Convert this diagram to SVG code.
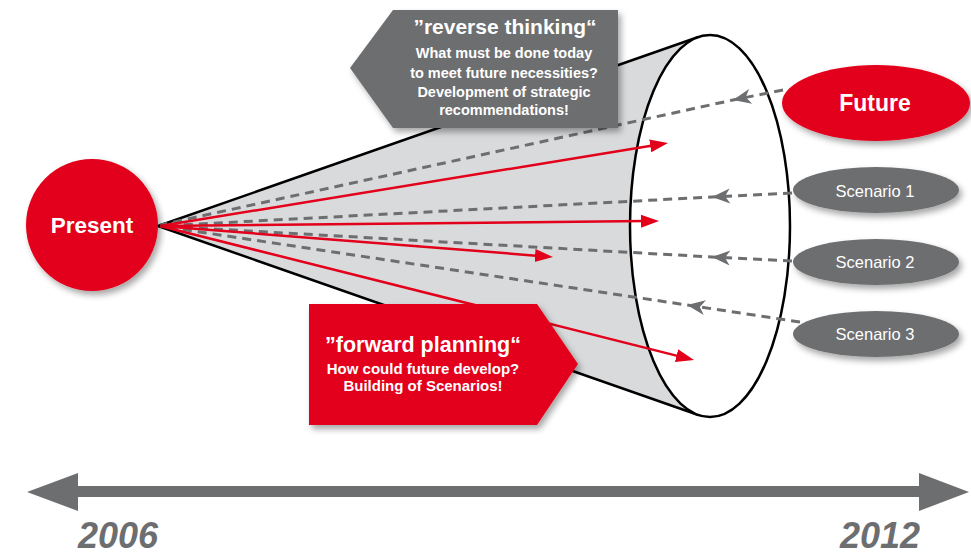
<svg xmlns="http://www.w3.org/2000/svg" width="971" height="556" viewBox="0 0 971 556">
<style>
.w{fill:#fff;font-family:"Liberation Sans",Arial,sans-serif;text-anchor:middle}
.b{font-weight:bold}
.dash{fill:none;stroke:#6d6e70;stroke-width:3;stroke-dasharray:9 6;marker-mid:url(#ga)}
.red{fill:none;stroke:#e2001a;stroke-width:2.5;marker-end:url(#ra)}
.yr{fill:#6d6e70;font-family:"Liberation Sans",Arial,sans-serif;font-weight:bold;font-style:italic;font-size:36px}
.sc{fill:#6d6e70;filter:url(#sh)}
</style>
<defs>
<filter id="sh" x="-20%" y="-20%" width="140%" height="150%">
<feDropShadow dx="3" dy="4" stdDeviation="3" flood-color="#000" flood-opacity="0.35"/>
</filter>
<marker id="ga" markerUnits="userSpaceOnUse" markerWidth="22" markerHeight="18" viewBox="-20 -9 22 18" refX="0" refY="0" orient="auto">
<path d="M0,0 L-18,-7.5 L-13,0 L-18,7.5 Z" fill="#6d6e70"/>
</marker>
<marker id="ra" markerUnits="userSpaceOnUse" markerWidth="20" markerHeight="16" viewBox="0 -8 20 16" refX="4" refY="0" orient="auto">
<path d="M0,-6.5 L18,0 L0,6.5 Z" fill="#e2001a"/>
</marker>
</defs>
<rect width="971" height="556" fill="#fff"/>
<g id="cone">
<path d="M698.4,37 L158,226 L698.4,415 Z" fill="#d9dadb" stroke="#000" stroke-width="2.5" stroke-linejoin="round"/>
<ellipse cx="710" cy="226" rx="80" ry="191" fill="#fff" stroke="#000" stroke-width="2.5"/>
</g>
<g id="connectors">
<path class="dash" d="M783,90 L733,100 L160,225"/>
<path class="dash" d="M792,193 L712,197 L160,226"/>
<path class="dash" d="M792,261 L712,257 L160,226"/>
<path class="dash" d="M800,322 L687,305 L160,226"/>
<path class="red" d="M160,226 L654.2,145.3"/>
<path class="red" d="M160,226 L645,221.1"/>
<path class="red" d="M160,226 L539,255.9"/>
<path class="red" d="M160,226 L680.4,356.6"/>
</g>
<g id="present">
<circle cx="92" cy="225" r="66" fill="#e2001a" filter="url(#sh)"/>
<text class="w b" x="92" y="233" font-size="22.5">Present</text>
</g>
<g id="reverse">
<polygon points="350,68 393,10 618,10 618,128 393,128" fill="#6d6e70" filter="url(#sh)"/>
<text class="w b" x="505" y="34" font-size="21">”reverse thinking“</text>
<text class="w b" x="504" y="58" font-size="14.5">What must be done today</text>
<text class="w b" x="504" y="78" font-size="14.5">to meet future necessities?</text>
<text class="w b" x="504" y="97" font-size="14.5">Development of strategic</text>
<text class="w b" x="504" y="115" font-size="14.5">recommendations!</text>
</g>
<g id="forward">
<polygon points="309,304 537,304 578,364 537,425 309,425" fill="#e2001a" filter="url(#sh)"/>
<text class="w b" x="423" y="352" font-size="21.5">”forward planning“</text>
<text class="w b" x="423" y="374" font-size="15">How could future develop?</text>
<text class="w b" x="423" y="391" font-size="15">Building of Scenarios!</text>
</g>
<g id="future">
<ellipse cx="876" cy="103" rx="94" ry="38" fill="#e2001a" filter="url(#sh)"/>
<text class="w b" x="875" y="111" font-size="23">Future</text>
</g>
<g id="scenario1">
<ellipse class="sc" cx="876" cy="190" rx="83" ry="23"/>
<text class="w" x="875" y="197" font-size="16.5">Scenario 1</text>
</g>
<g id="scenario2">
<ellipse class="sc" cx="876" cy="262" rx="83" ry="23"/>
<text class="w" x="875" y="268" font-size="16.5">Scenario 2</text>
</g>
<g id="scenario3">
<ellipse class="sc" cx="876" cy="334" rx="83" ry="23"/>
<text class="w" x="875" y="340" font-size="16.5">Scenario 3</text>
</g>
<g id="timeline">
<polygon points="27,492 78,473 78,486 919,486 919,473 969,492 919,511 919,497 78,497 78,511" fill="#6d6e70"/>
<text class="yr" x="78" y="548">2006</text>
<text class="yr" x="840" y="548">2012</text>
</g>
</svg>
